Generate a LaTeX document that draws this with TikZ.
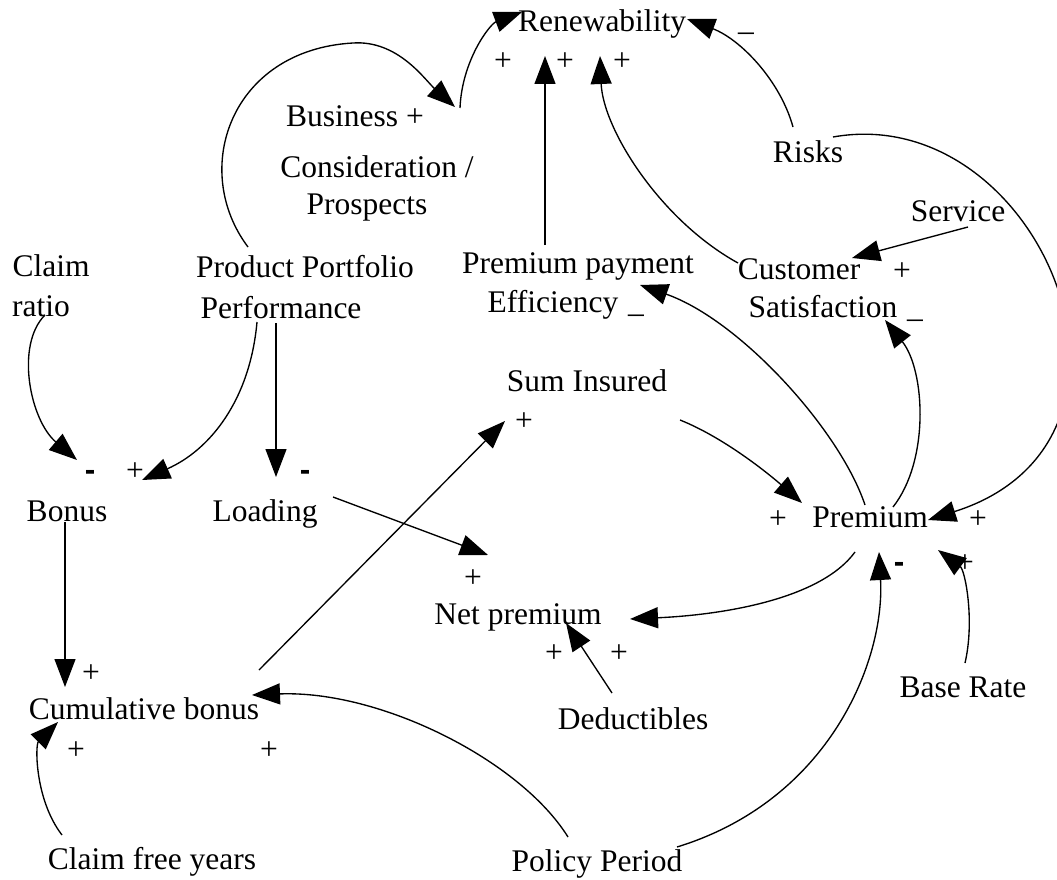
\documentclass[tikz,border=0pt]{standalone}
\usepackage{fontspec}
\setmainfont{Liberation Serif}
\newfontfamily\signfont{Liberation Sans}
\usetikzlibrary{arrows.meta,calc}
\begin{document}
\begin{tikzpicture}[x=1pt,y=-1pt,>={Triangle[length=28pt,width=21pt]},line width=1.35pt,
        font=\fontsize{31.5}{36}\selectfont,every node/.style={inner sep=2pt,text height=22pt,text depth=7pt}]
    \useasboundingbox (0,0) rectangle (1057,880);
    % variables
    \node (renew) at (602,24) {Renewability};
    \node (buss) at (355,119) {Business +};
    \node (cons) at (377,170) {Consideration /};
    \node (prosp) at (367,207) {Prospects};
    \node (risks) at (808,155) {Risks};
    \node (service) at (958,214) {Service};
    \node (cust) at (799,272) {Customer};
    \node (satis) at (823,310) {Satisfaction};
    \node (ppay) at (578,266) {Premium payment};
    \node (eff) at (553,305) {Efficiency};
    \node (claim) at (51,269) {Claim};
    \node (ratio) at (41,309) {ratio};
    \node (ppp1) at (305,270) {Product Portfolio};
    \node (ppp2) at (281,311) {Performance};
    \node (sumins) at (587,384) {Sum Insured};
    \node (bonus) at (67,514) {Bonus};
    \node (loading) at (265,514) {Loading};
    \node (premium) at (870,520) {Premium};
    \node (netp) at (518,617) {Net premium};
    \node (deduct) at (633,722) {Deductibles};
    \node (cumb) at (144,712) {Cumulative bonus};
    \node (baserate) at (963,690) {Base Rate};
    \node (cfy) at (152,862) {Claim free years};
    \node (policy) at (597,864) {Policy Period};
    % signs
    \foreach \x/\y/\s [count=\i] in {503/63/+,565/63/+,622/63/+,746/23/\_,902/273/+,915/310/\_,636/305/\_,
        524/423/+,90/473/{\signfont\bfseries -},135/473/+,305/473/{\signfont\bfseries -},778/521/+,978/521/+,
        899/565/{\signfont\bfseries -},965/565/+,473/580/+,554/655/+,619/655/+,91/675/+,76/752/+,269/752/+}
    \node (sgn\i) at (\x,\y) {\s};
    % links
    \draw[->] ($(ppp1)+(-57,-23)$) .. controls +(-58,-77) and +(-123,7) .. ($(buss)+(-2,-76)$)
        .. controls +(45,-3) and +(-30,-27) .. ($(buss)+(100,-12)$);
    \draw[->] ($(buss)+(105,-11)$) .. controls +(2,-48) and +(-32,12) .. ($(renew)+(-80,-12)$);
    \draw[->] ($(ppay)+(-33,-21)$) -- ($(renew)+(-57,32)$);
    \draw[->] ($(cust)+(-61,-9)$) .. controls +(-78,-43) and +(3,73) .. ($(renew)+(-2,32)$);
    \draw[->] ($(risks)+(-15,-28)$) .. controls +(-13,-47) and +(53,20) .. ($(renew)+(85,-5)$);
    \draw[->] ($(risks)+(25,-18)$) .. controls +(207,-37) and +(252,-80) .. ($(premium)+(58,0)$);
    \draw[->] ($(service)+(10,13)$) -- ($(cust)+(53,-14)$);
    \draw[->] ($(premium)+(-5,-15)$) .. controls +(-25,-75) and +(100,35) .. ($(ppay)+(62,19)$);
    \draw[->] ($(premium)+(23,-13)$) .. controls +(37,-47) and +(40,50) .. ($(satis)+(62,10)$);
    \draw[->] ($(sumins)+(93,36)$) .. controls +(45,18) and +(-32,-28) .. ($(premium)+(-68,-17)$);
    \draw[->] ($(premium)+(-15,32)$) .. controls +(-35,48) and +(90,-4) .. ($(netp)+(112,2)$);
    \draw[->] ($(loading)+(68,-17)$) -- ($(netp)+(-30,-62)$);
    \draw[->] ($(cumb)+(115,-42)$) -- ($(sumins)+(-82,37)$);
    \draw[->] ($(deduct)+(-21,-29)$) -- ($(netp)+(48,6)$);
    \draw[->] ($(baserate)+(2,-27)$) .. controls +(10,-43) and +(27,20) .. ($(premium)+(68,30)$);
    \draw[->] ($(policy)+(80,-17)$) .. controls +(153,-47) and +(6,108) .. ($(premium)+(9,32)$);
    \draw[->] ($(policy)+(-29,-27)$) .. controls +(-48,-77) and +(128,-5) .. ($(cumb)+(108,-17)$);
    \draw[->] ($(cfy)+(-90,-27)$) .. controls +(-27,-35) and +(-23,23) .. ($(cumb)+(-86,10)$);
    \draw[->] ($(bonus)+(-2,8)$) -- ($(cumb)+(-79,-25)$);
    \draw[->] ($(ratio)+(4,6)$) .. controls +(-30,30) and +(-47,-40) .. ($(bonus)+(10,-54)$);
    \draw[->] ($(ppp2)+(-24,11)$) .. controls +(-7,78) and +(68,-30) .. ($(bonus)+(75,-34)$);
    \draw[->] ($(ppp2)+(-5,12)$) -- ($(loading)+(11,-37)$);
\end{tikzpicture}
\end{document}
